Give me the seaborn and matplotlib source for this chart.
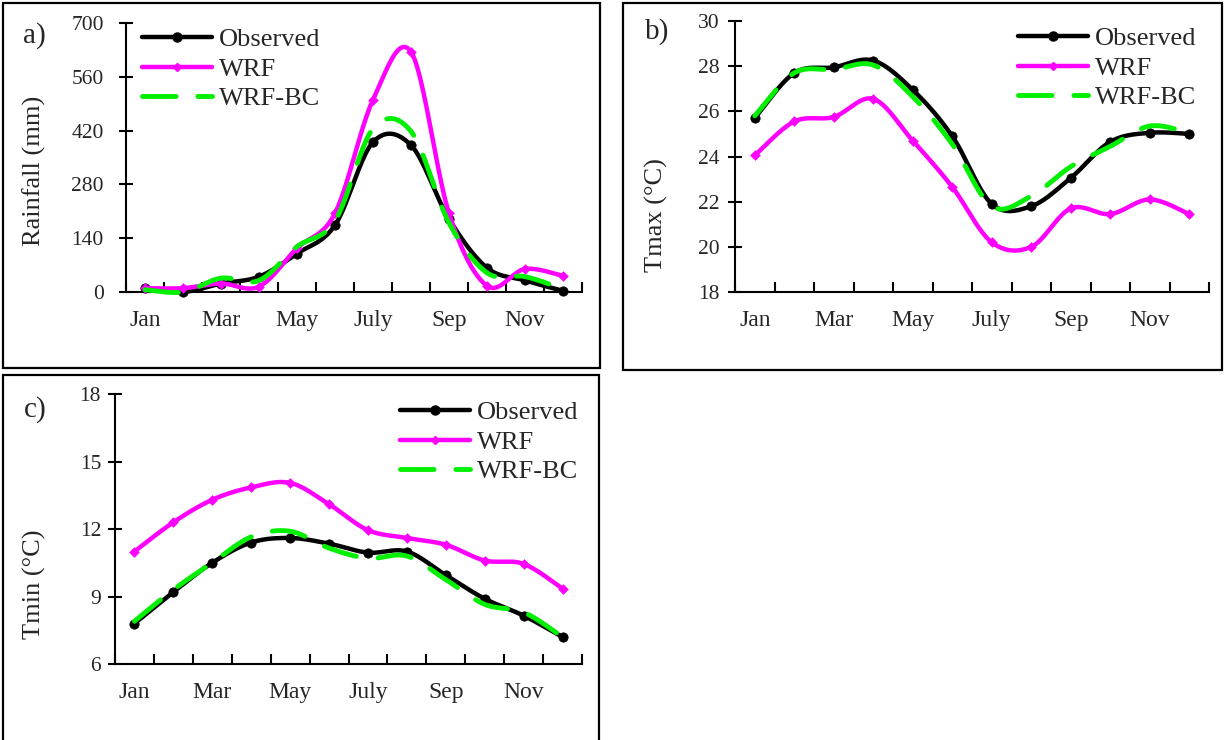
import numpy as np
import matplotlib
matplotlib.use('Agg')
import matplotlib.pyplot as plt
import seaborn as sns
from matplotlib.lines import Line2D
from matplotlib.patches import Rectangle

# ---------------- data ----------------
months = ['Jan', 'Feb', 'Mar', 'Apr', 'May', 'Jun', 'July', 'Aug', 'Sep', 'Oct', 'Nov', 'Dec']
tick_labels = ['Jan', 'Mar', 'May', 'July', 'Sep', 'Nov']
series_names = ['Observed', 'WRF', 'WRF-BC']

rain_obs = [10, 0, 22, 40, 100, 174, 390, 382, 190, 63, 30, 3]
rain_wrf = [10, 10, 22, 14, 114, 205, 500, 625, 205, 16, 60, 42]
rain_bc = [6, 0, 36, 30, 118, 185, 425, 418, 180, 50, 40, 8]

tmax_obs = [25.7, 27.7, 27.95, 28.25, 26.95, 24.9, 21.9, 21.8, 23.05, 24.65, 25.05, 25.0]
tmax_wrf = [24.05, 25.55, 25.75, 26.55, 24.7, 22.65, 20.2, 20.0, 21.7, 21.45, 22.1, 21.45]
tmax_bc = [25.8, 27.7, 27.85, 28.05, 26.65, 24.55, 21.8, 22.25, 23.55, 24.45, 25.35, 25.05]

tmin_obs = [7.8, 9.2, 10.5, 11.4, 11.6, 11.35, 10.95, 11.0, 9.95, 8.9, 8.15, 7.2]
tmin_wrf = [11.0, 12.3, 13.3, 13.85, 14.05, 13.1, 11.95, 11.6, 11.3, 10.6, 10.45, 9.35]
tmin_bc = [7.9, 9.3, 10.5, 11.65, 11.9, 11.15, 10.7, 10.8, 9.75, 8.65, 8.3, 7.2]

# ---------------- style ----------------
sns.set_style('white')
plt.rcParams['font.family'] = ['Liberation Serif', 'DejaVu Serif']

W, H = 1225, 740
fig = plt.figure(figsize=(W / 100, H / 100), dpi=100)

C_OBS = '#000000'
C_WRF = '#FF00FF'
C_BC = '#00F000'
LW = 3.2
BC_DASH = (0, (6.9, 4.5))


def px_rect(l, t, r, b):
    return [l / W, 1 - b / H, (r - l) / W, (b - t) / H]


def smooth(y, n=24):
    """Excel-like smoothed line (Catmull-Rom Bezier) for drawing only."""
    y = np.asarray(y, float)
    x = np.arange(len(y), dtype=float)
    xs, ys = [], []
    m = len(y)
    for i in range(m - 1):
        i0 = max(i - 1, 0)
        i3 = min(i + 2, m - 1)
        p0 = np.array([x[i0], y[i0]])
        p1 = np.array([x[i], y[i]])
        p2 = np.array([x[i + 1], y[i + 1]])
        p3 = np.array([x[i3], y[i3]])
        b1 = p1 + (p2 - p0) / 6.0
        b2 = p2 - (p3 - p1) / 6.0
        t = np.linspace(0, 1, n, endpoint=(i == m - 2))[:, None]
        pts = ((1 - t) ** 3) * p1 + 3 * ((1 - t) ** 2) * t * b1 + 3 * (1 - t) * t ** 2 * b2 + t ** 3 * p2
        xs.append(pts[:, 0])
        ys.append(pts[:, 1])
    return np.concatenate(xs), np.concatenate(ys)


def draw_panel(rect, obs, wrf, bc, ylim, yticks, ylabel, ylabel_xy, letter, letter_xy,
               leg_xy, ypad):
    ax = fig.add_axes(px_rect(*rect))
    x = np.arange(len(months))
    # Observed
    xs, ys = smooth(obs)
    sns.lineplot(x=xs, y=ys, ax=ax, color=C_OBS, lw=LW, sort=False, estimator=None,
                 legend=False, zorder=3, clip_on=False)
    sns.scatterplot(x=x, y=obs, ax=ax, color=C_OBS, s=45, marker='o', edgecolor=C_OBS,
                    legend=False, zorder=3.1, clip_on=False)
    # WRF
    xs, ys = smooth(wrf)
    sns.lineplot(x=xs, y=ys, ax=ax, color=C_WRF, lw=LW, sort=False, estimator=None,
                 legend=False, zorder=4, clip_on=False)
    sns.scatterplot(x=x, y=wrf, ax=ax, color=C_WRF, s=25, marker='D', edgecolor=C_WRF,
                    legend=False, zorder=4.1, clip_on=False)
    # WRF-BC
    xs, ys = smooth(bc)
    sns.lineplot(x=xs, y=ys, ax=ax, color=C_BC, lw=3.5, sort=False, estimator=None,
                 legend=False, zorder=5, linestyle=BC_DASH, dash_capstyle='round',
                 clip_on=False)

    ax.set_xlim(-0.5, 11.5)
    ax.set_ylim(*ylim)
    ax.set_yticks(yticks)
    ax.set_yticklabels([str(v) for v in yticks])
    ax.set_xticks(np.arange(-0.5, 12.0, 1.0))
    ax.set_xticklabels([])
    ax.set_xticks([0, 2, 4, 6, 8, 10], minor=True)
    ax.set_xticklabels(tick_labels, minor=True)
    ax.tick_params(axis='x', which='major', bottom=True, direction='in', length=7,
                   width=1.5, color='black')
    ax.tick_params(axis='x', which='minor', bottom=True, length=0, pad=13, labelsize=17)
    ax.tick_params(axis='y', which='major', left=True, direction='inout', length=10,
                   width=1.5, color='black', pad=ypad, labelsize=15.5)
    for s in ['top', 'right']:
        ax.spines[s].set_visible(False)
    for s in ['left', 'bottom']:
        ax.spines[s].set_linewidth(1.5)
        ax.spines[s].set_color('black')
    ax.set_xlabel('')
    ax.set_ylabel('')
    ax.set_facecolor('white')

    fig.text(ylabel_xy[0] / W, 1 - ylabel_xy[1] / H, ylabel, rotation=90,
             ha='center', va='center', fontsize=19)
    fig.text(letter_xy[0] / W, 1 - letter_xy[1] / H, letter,
             ha='center', va='center', fontsize=21)

    handles = [
        Line2D([], [], color=C_OBS, lw=LW, marker='o', markersize=6.5),
        Line2D([], [], color=C_WRF, lw=LW, marker='D', markersize=4.5),
        Line2D([], [], color=C_BC, lw=3.5, linestyle=BC_DASH, dash_capstyle='round'),
    ]
    fig.legend(handles, series_names, loc='upper left',
               bbox_to_anchor=(leg_xy[0] / W, 1 - leg_xy[1] / H),
               bbox_transform=fig.transFigure, frameon=False, fontsize=19,
               handlelength=2.65, handletextpad=0.25, labelspacing=0.22,
               borderpad=0, borderaxespad=0)
    return ax


# panel a
draw_panel((126, 23, 582, 292), rain_obs, rain_wrf, rain_bc, (0, 700),
           [0, 140, 280, 420, 560, 700], 'Rainfall (mm)', (34, 171), 'a)', (34, 36),
           (142, 28), 11)
# panel b
draw_panel((735, 21, 1209, 292), tmax_obs, tmax_wrf, tmax_bc, (18, 30),
           [18, 20, 22, 24, 26, 28, 30], 'Tmax (°C)', (656, 215), 'b)', (657, 32),
           (1018, 27), 6)
# panel c
draw_panel((115, 394, 582, 664), tmin_obs, tmin_wrf, tmin_bc, (6, 18),
           [6, 9, 12, 15, 18], 'Tmin (°C)', (34, 584), 'c)', (35, 410),
           (400, 401), 5)

# outer frames
for (l, t, r, b) in [(3, 3, 600, 368), (623, 3, 1222, 370), (3, 375, 599, 745)]:
    fig.patches.append(Rectangle((l / W, 1 - b / H), (r - l) / W, (b - t) / H,
                                 transform=fig.transFigure, fill=False,
                                 edgecolor='black', lw=1.6, zorder=0))

fig.savefig('out.png', dpi=100, facecolor='white')
